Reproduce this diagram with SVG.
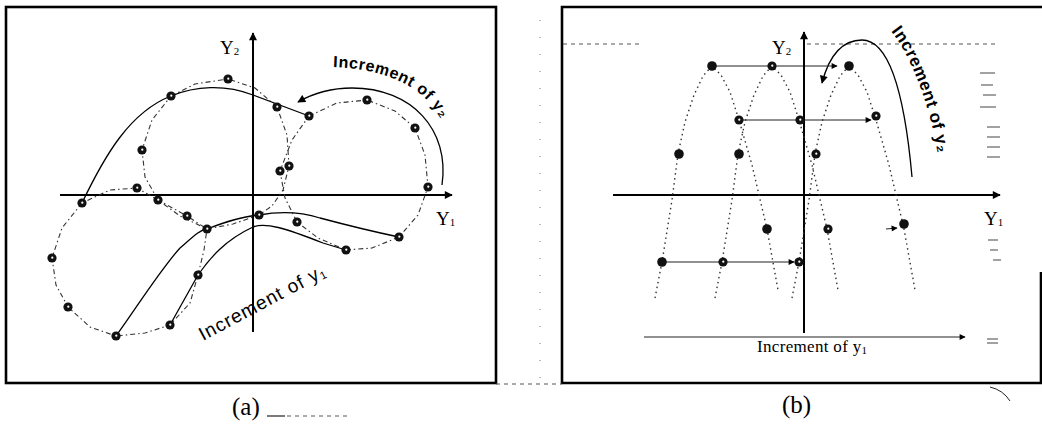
<svg xmlns="http://www.w3.org/2000/svg" xmlns:xlink="http://www.w3.org/1999/xlink" width="1042" height="425" viewBox="0 0 1042 425">
<style>
.frame{fill:none;stroke:#000;stroke-width:2.6}
.axis{fill:none;stroke:#000;stroke-width:2}
.curve{fill:none;stroke:#000;stroke-width:1.3}
.loop{fill:none;stroke:#333;stroke-width:1.1;stroke-dasharray:5 3 1.5 3}
.arch{fill:none;stroke:#333;stroke-width:1.4;stroke-dasharray:1.5 3.5}
.hline{fill:none;stroke:#222;stroke-width:1}
.noise{fill:none;stroke:#555;stroke-width:1;stroke-dasharray:4 4}
.lbl{font-family:"Liberation Serif",serif;fill:#000}
.ann{font-family:"Liberation Sans",Arial,sans-serif;fill:#000}
</style>
<defs>
<marker id="ah" viewBox="0 0 10 10" refX="9" refY="5" markerWidth="10" markerHeight="8" orient="auto" markerUnits="userSpaceOnUse"><path d="M0,0 L10,5 L0,10 z" fill="#000"/></marker>
<marker id="sh" viewBox="0 0 10 10" refX="9" refY="5" markerWidth="7" markerHeight="6" orient="auto" markerUnits="userSpaceOnUse"><path d="M0,0 L10,5 L0,10 z" fill="#000"/></marker>
<g id="pt"><circle r="4.6" fill="#111"/><circle r="1.1" cx="0.3" cy="-0.3" fill="#fff"/></g>
<g id="ptf"><circle r="4.8" fill="#111"/></g>
<path id="archp" class="arch" d="M -57,232 L -50,196 L -40,134 L -34,88 L -27,56 L -18,29 L -9,10 L 0,0 L 9,9 L 18,26 L 27,54 L 40,99 L 55,163 L 66,224"/>
<path id="tpa" d="M 333,67 C 365,68 395,76 415,90 C 428,99 437,111 446,126"/>
<path id="tpb" d="M 891,31 C 913,60 930,105 941,168"/>
</defs>

<rect width="1042" height="425" fill="#fff"/>

<!-- frames -->
<g id="frame-a">
<rect class="frame" x="6" y="7" width="490" height="376"/>
</g>
<g id="frame-b">
<path class="frame" d="M 1042,7 L 562,7 L 562,383 L 1042,383 M 1041,272 L 1041,383"/>
</g>

<!-- scan guide dashes -->
<g id="guides">
<path class="noise" d="M 496,384 L 562,384"/>
<path class="noise" d="M 563,44 L 640,44 M 807,44 L 997,44"/>
<path d="M 267,416 L 285,416" fill="none" stroke="#222" stroke-width="1.2"/>
<path class="noise" d="M 287,416 L 350,416"/>
<path d="M 540,20 L 540,380" fill="none" stroke="#777" stroke-width="1" stroke-dasharray="1 16"/>
<path fill="none" stroke="#444" stroke-width="1" d="M 980,73 L 995,73 M 981,85 L 993,85 M 983,95 L 996,95 M 980,107 L 996,107 M 987,127 L 1000,127 M 987,137 L 1000,137 M 987,147 L 1000,147 M 987,157 L 1000,157 M 988,240 L 998,240 M 990,250 L 998,250 M 993,260 L 1001,260 M 987,339 L 998,339 M 987,343 L 998,343"/>
<path d="M 990,387 Q 1003,390 1010,401" fill="none" stroke="#222" stroke-width="1"/>
</g>

<!-- panel (a) -->
<g id="axes-a">
<line class="axis" x1="253" y1="332" x2="253" y2="33" marker-end="url(#ah)"/>
<line class="axis" x1="60" y1="195" x2="452" y2="195" marker-end="url(#ah)"/>
<text class="lbl" x="220" y="54" font-size="19">Y<tspan font-size="11" dy="1">2</tspan></text>
<text class="lbl" x="436" y="225" font-size="19">Y<tspan font-size="11" dy="1">1</tspan></text>
</g>

<g id="loops-a">
<path class="loop" d="M 171,96 L 195,84 L 228,79 L 255,88 L 277,107 L 287,135 L 289,166 L 283,190 L 272,206 L 259,215 L 233,224 L 207,229 L 180,216 L 158,200 L 145,177 L 142,150 L 152,120 Z"/>
<path class="loop" d="M 309,116 L 337,103 L 367,100 L 395,111 L 415,128 L 425,155 L 428,187 L 418,215 L 399,237 L 372,248 L 346,250 L 318,238 L 297,222 L 285,198 L 280,171 L 292,140 Z"/>
<path class="loop" d="M 82,203 L 62,228 L 52,258 L 56,285 L 68,307 L 90,327 L 116,336 L 145,333 L 170,325 L 190,303 L 198,275 L 204,250 L 207,229 L 187,216 L 158,200 L 137,188 L 110,190 Z"/>
</g>

<g id="connectors">
<path class="curve" d="M 82,203 C 105,155 130,112 171,96 C 195,86 225,84 253,95 L 309,116"/>
<path class="curve" d="M 116,336 C 135,310 160,270 180,248 C 195,235 200,230 207,229 C 225,222 245,216 259,215 C 275,212 295,210 320,218 C 350,226 375,232 399,237"/>
<path class="curve" d="M 170,325 L 198,275 C 210,258 225,240 253,227 C 265,222 285,228 323,243 L 346,250"/>
<path class="curve" d="M 442,185 C 450,130 412,88 352,88 C 330,88 312,94 298,102" marker-end="url(#ah)"/>
<path class="curve" d="M 912,177 C 906,110 893,40 862,40 C 840,40 828,60 822,83" marker-end="url(#ah)"/>
<line class="hline" x1="712" y1="66" x2="837" y2="66" marker-end="url(#sh)"/>
<line class="hline" x1="743" y1="120" x2="871" y2="120" marker-end="url(#sh)"/>
<line class="hline" x1="662" y1="262" x2="794" y2="262" marker-end="url(#sh)"/>
<line class="hline" x1="886" y1="229" x2="897" y2="228" marker-end="url(#sh)"/>
<line class="hline" x1="644" y1="337" x2="965" y2="337" marker-end="url(#sh)"/>
</g>

<g id="points-a">
<use href="#pt" x="228" y="79"/><use href="#pt" x="171" y="96"/><use href="#pt" x="142" y="150"/>
<use href="#pt" x="137" y="188"/><use href="#pt" x="82" y="203"/><use href="#pt" x="158" y="200"/>
<use href="#pt" x="187" y="216"/><use href="#pt" x="277" y="107"/><use href="#pt" x="309" y="116"/>
<use href="#pt" x="367" y="100"/><use href="#pt" x="415" y="128"/><use href="#pt" x="280" y="171"/>
<use href="#pt" x="289" y="166"/><use href="#pt" x="428" y="187"/><use href="#pt" x="207" y="229"/>
<use href="#pt" x="52" y="258"/><use href="#pt" x="68" y="307"/><use href="#pt" x="116" y="336"/>
<use href="#pt" x="198" y="275"/><use href="#pt" x="170" y="325"/><use href="#pt" x="259" y="215"/>
<use href="#pt" x="297" y="222"/><use href="#pt" x="399" y="237"/><use href="#pt" x="346" y="250"/>
</g>

<g id="labels-a">
<text class="ann" font-size="16" font-weight="bold"><textPath href="#tpa" textLength="125">Increment of y₂</textPath></text>
<text class="ann" font-size="19" transform="translate(203,341) rotate(-28)" textLength="140">Increment of y<tspan font-size="11" dy="2">1</tspan></text>
<text class="lbl" x="232" y="415" font-size="25">(a)</text>
</g>

<!-- panel (b) -->
<g id="axes-b">
<line class="axis" x1="804" y1="333" x2="804" y2="32" marker-end="url(#ah)"/>
<line class="axis" x1="613" y1="195" x2="1000" y2="195" marker-end="url(#ah)"/>
<text class="lbl" x="772" y="54" font-size="19">Y<tspan font-size="11" dy="1">2</tspan></text>
<text class="lbl" x="984" y="225" font-size="19">Y<tspan font-size="11" dy="1">1</tspan></text>
</g>

<g id="arches-b">
<use href="#archp" x="712" y="66"/>
<use href="#archp" x="772" y="66"/>
<use href="#archp" x="849" y="66"/>
</g>

<g id="points-b">
<use href="#ptf" x="712" y="66"/><use href="#pt" x="772" y="66"/><use href="#pt" x="739" y="120"/>
<use href="#ptf" x="679" y="154"/><use href="#ptf" x="739" y="154"/><use href="#ptf" x="849" y="66"/>
<use href="#pt" x="876" y="116"/><use href="#pt" x="800" y="120"/><use href="#pt" x="816" y="154"/>
<use href="#ptf" x="767" y="229"/><use href="#pt" x="828" y="229"/><use href="#ptf" x="904" y="224"/>
<use href="#ptf" x="662" y="262"/><use href="#pt" x="723" y="262"/><use href="#pt" x="799" y="262"/>
</g>

<g id="labels-b">
<text class="ann" font-size="17" font-weight="bold"><textPath href="#tpb" textLength="132">Increment of y₂</textPath></text>
<text class="lbl" x="757" y="352" font-size="17" textLength="110">Increment of y<tspan font-size="11" dy="2">1</tspan></text>
<text class="lbl" x="782" y="413" font-size="25">(b)</text>
</g>
</svg>
